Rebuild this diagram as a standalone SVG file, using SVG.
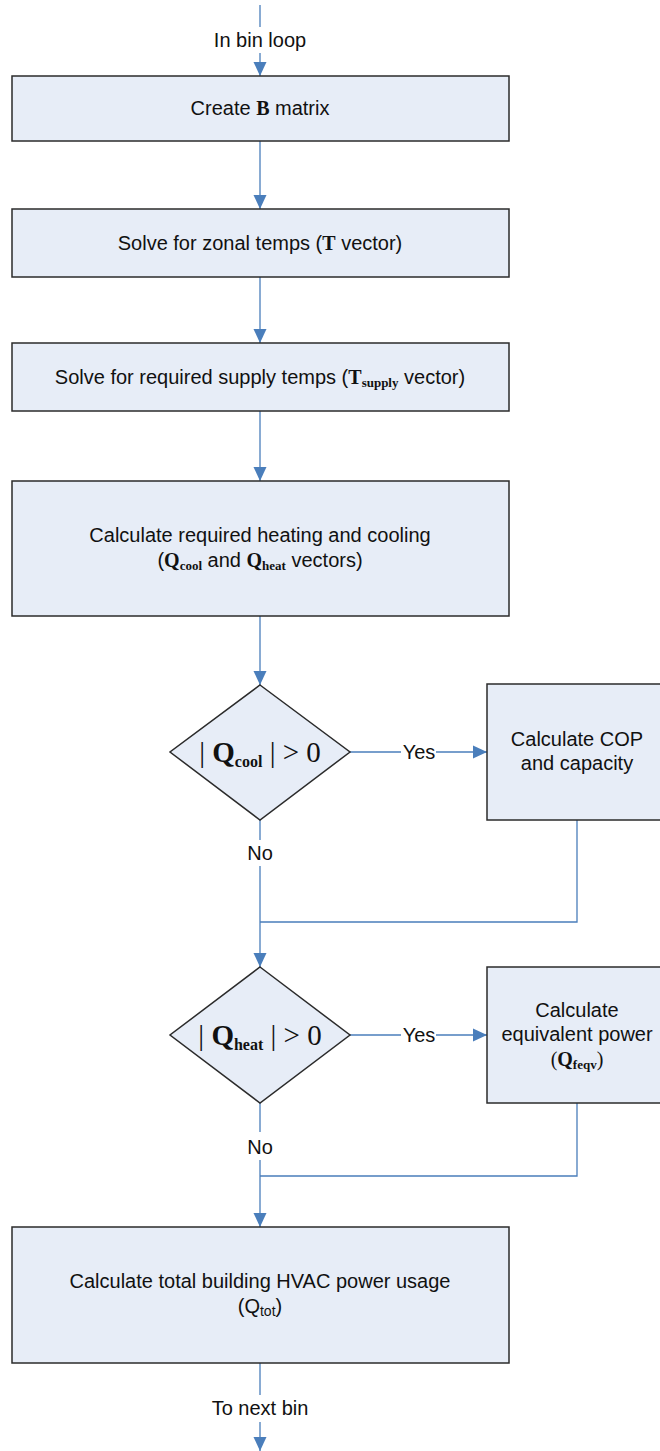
<svg xmlns="http://www.w3.org/2000/svg" width="660" height="1451" viewBox="0 0 660 1451">
<style>
.box{fill:#e7edf7;stroke:#2b2b2b;stroke-width:1.5}
.con{fill:none;stroke:#4a7ebb;stroke-width:1.3}
.t{font-family:"Liberation Sans",Arial,sans-serif;font-size:20px;fill:#111;text-anchor:middle}
.big{font-size:29px}
.m{font-family:"Liberation Serif","Times New Roman",serif;font-weight:bold}
.mr{font-family:"Liberation Serif","Times New Roman",serif;font-weight:normal}
</style>
<defs>
<marker id="ah" markerUnits="userSpaceOnUse" markerWidth="14" markerHeight="14" refX="14" refY="7" orient="auto">
<path d="M0,0.5 L14,7 L0,13.5 z" fill="#4a7ebb"/>
</marker>
</defs>
<rect width="660" height="1451" fill="#fff"/>
<g id="connectors">
<line class="con" x1="260" y1="5" x2="260" y2="27"/>
<line class="con" x1="260" y1="53" x2="260" y2="76" marker-end="url(#ah)"/>
<line class="con" x1="260" y1="141" x2="260" y2="209" marker-end="url(#ah)"/>
<line class="con" x1="260" y1="277" x2="260" y2="343" marker-end="url(#ah)"/>
<line class="con" x1="260" y1="411" x2="260" y2="481" marker-end="url(#ah)"/>
<line class="con" x1="260" y1="616" x2="260" y2="685" marker-end="url(#ah)"/>
<line class="con" x1="350" y1="752" x2="401" y2="752"/>
<line class="con" x1="436" y1="752" x2="487" y2="752" marker-end="url(#ah)"/>
<line class="con" x1="260" y1="820" x2="260" y2="840"/>
<line class="con" x1="260" y1="866" x2="260" y2="967" marker-end="url(#ah)"/>
<polyline class="con" points="577,820 577,922 260,922"/>
<line class="con" x1="350" y1="1035" x2="401" y2="1035"/>
<line class="con" x1="436" y1="1035" x2="487" y2="1035" marker-end="url(#ah)"/>
<line class="con" x1="260" y1="1103" x2="260" y2="1132"/>
<line class="con" x1="260" y1="1160" x2="260" y2="1227" marker-end="url(#ah)"/>
<polyline class="con" points="577,1103 577,1176 260,1176"/>
<line class="con" x1="260" y1="1363" x2="260" y2="1395"/>
<line class="con" x1="260" y1="1422" x2="260" y2="1451" marker-end="url(#ah)"/>
<text class="t" x="260" y="47">In bin loop</text>
<text class="t" x="419" y="759">Yes</text>
<text class="t" x="260" y="860">No</text>
<text class="t" x="419" y="1042">Yes</text>
<text class="t" x="260" y="1154">No</text>
<text class="t" x="260" y="1415">To next bin</text>
</g>
<g id="n1">
<rect class="box" x="12" y="76" width="497" height="65"/>
<text class="t" x="260" y="115">Create <tspan class="m">B</tspan> matrix</text>
</g>
<g id="n2">
<rect class="box" x="12" y="209" width="497" height="68"/>
<text class="t" x="260" y="250">Solve for zonal temps (<tspan class="m">T</tspan> vector)</text>
</g>
<g id="n3">
<rect class="box" x="12" y="343" width="497" height="68"/>
<text class="t" x="260" y="384">Solve for required supply temps (<tspan class="m">T</tspan><tspan class="m" font-size="13" dy="3">supply</tspan><tspan dy="-3"> vector)</tspan></text>
</g>
<g id="n4">
<rect class="box" x="12" y="481" width="497" height="135"/>
<text class="t" x="260" y="542">Calculate required heating and cooling</text>
<text class="t" x="260" y="567">(<tspan class="m">Q</tspan><tspan class="m" font-size="13" dy="3">cool</tspan><tspan dy="-3"> and </tspan><tspan class="m">Q</tspan><tspan class="m" font-size="13" dy="3">heat</tspan><tspan dy="-3"> vectors)</tspan></text>
</g>
<g id="d1">
<polygon class="box" points="260,685 350,752 260,820 170,752"/>
<text class="t big" x="260" y="762"><tspan class="mr">| </tspan><tspan class="m">Q</tspan><tspan class="m" font-size="16" dy="5">cool</tspan><tspan class="mr" dy="-5"> | &gt; 0</tspan></text>
</g>
<g id="n5">
<rect class="box" x="487" y="684" width="180" height="136"/>
<text class="t" x="577" y="746">Calculate COP</text>
<text class="t" x="577" y="770">and capacity</text>
</g>
<g id="d2">
<polygon class="box" points="260,967 350,1035 260,1103 170,1035"/>
<text class="t big" x="260" y="1045"><tspan class="mr">| </tspan><tspan class="m">Q</tspan><tspan class="m" font-size="16" dy="5">heat</tspan><tspan class="mr" dy="-5"> | &gt; 0</tspan></text>
</g>
<g id="n6">
<rect class="box" x="487" y="967" width="180" height="136"/>
<text class="t" x="577" y="1017">Calculate</text>
<text class="t" x="577" y="1041">equivalent power</text>
<text class="t" x="577" y="1066"><tspan class="mr">(</tspan><tspan class="m">Q</tspan><tspan class="m" font-size="13" dy="3">feqv</tspan><tspan class="mr" dy="-3">)</tspan></text>
</g>
<g id="n7">
<rect class="box" x="12" y="1227" width="497" height="136"/>
<text class="t" x="260" y="1288">Calculate total building HVAC power usage</text>
<text class="t" x="260" y="1313">(Q<tspan font-size="14" dy="3">tot</tspan><tspan dy="-3">)</tspan></text>
</g>
</svg>
